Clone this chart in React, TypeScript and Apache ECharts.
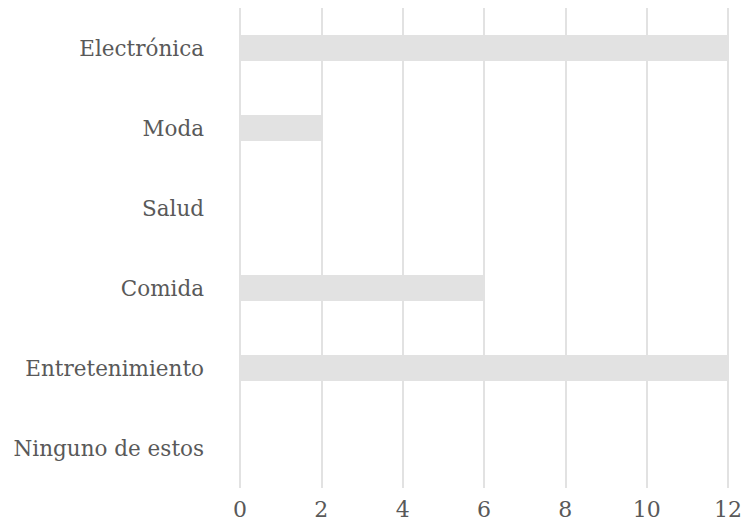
import React, { useEffect, useRef } from "react";
import * as echarts from "echarts";

const categories = ["Electrónica", "Moda", "Salud", "Comida", "Entretenimiento", "Ninguno de estos"];
const values = [12, 2, 0, 6, 12, 0];
const axisMax = 12;
const axisStep = 2;

export default function App() {
  const ref = useRef<HTMLDivElement>(null);

  useEffect(() => {
    if (!ref.current) return;
    const chart = echarts.init(ref.current, null, { renderer: "svg" });
    const font = "DejaVu Serif";
    chart.setOption({
      animation: false,
      backgroundColor: "#ffffff",
      textStyle: { fontFamily: font },
      grid: { left: 240, right: 18, top: 8, bottom: 34, containLabel: false },
      xAxis: {
        type: "value",
        min: 0,
        max: axisMax,
        interval: axisStep,
        axisLine: { show: false },
        axisTick: { show: false },
        axisLabel: { color: "#595959", fontFamily: font, fontSize: 22, margin: 10 },
        splitLine: { show: true, lineStyle: { color: "#d9d9d9", width: 1.5 } },
      },
      yAxis: {
        type: "category",
        inverse: true,
        data: categories,
        axisLine: { show: false },
        axisTick: { show: false },
        axisLabel: { color: "#595959", fontFamily: font, fontSize: 21.5, margin: 36 },
        splitLine: { show: false },
      },
      series: [
        {
          type: "bar",
          data: values,
          barWidth: 26,
          itemStyle: { color: "#e2e2e2" },
        },
      ],
    });
    return () => chart.dispose();
  }, []);

  return (
    <div
      ref={ref}
      style={{ position: "fixed", left: 0, top: 0, width: 746, height: 522 }}
    />
  );
}
